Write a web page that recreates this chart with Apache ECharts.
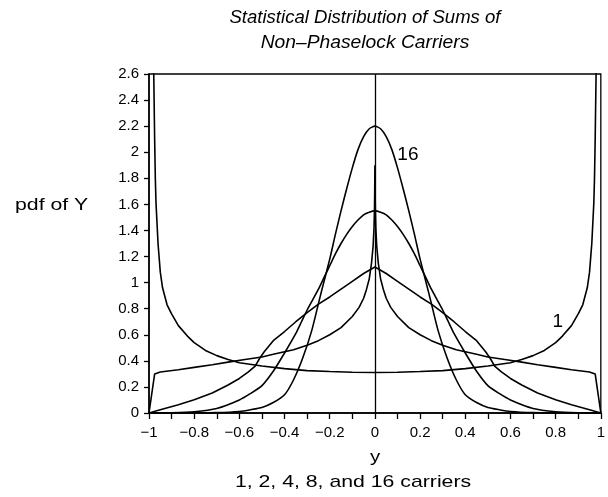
<!DOCTYPE html>
<html><head><meta charset="utf-8">
<script src="https://cdn.jsdelivr.net/npm/echarts@6/dist/echarts.min.js"></script>
<style>html,body{margin:0;padding:0;background:#fff}#c{width:608px;height:497px}</style>
</head><body><div id="c"></div>
<script>
// ---- data ----
const xTickLabels = ['−1','−0.8','−0.6','−0.4','−0.2','0','0.2','0.4','0.6','0.8','1'];
const yTickLabels = ['0','0.2','0.4','0.6','0.8','1','1.2','1.4','1.6','1.8','2','2.2','2.4','2.6'];

const n1X = [-0.985,-0.979,-0.975,-0.972,-0.969,-0.96,-0.95,-0.94,-0.92,-0.9,-0.87,-0.83,-0.8,-0.75,-0.7,-0.65,-0.6,-0.5,-0.4,-0.3,-0.2,-0.1,0,0.1,0.2,0.3,0.4,0.5,0.6,0.65,0.7,0.75,0.8,0.83,0.87,0.9,0.92,0.94,0.95,0.96,0.969,0.972,0.975,0.979,0.985];
const n1Y = [3.2,2.6,2.1,1.8,1.61,1.3,1.08,0.96,0.83,0.76,0.67,0.59,0.54,0.48,0.44,0.41,0.385,0.36,0.34,0.325,0.318,0.313,0.311,0.313,0.318,0.325,0.34,0.36,0.385,0.41,0.44,0.48,0.54,0.59,0.67,0.76,0.83,0.96,1.08,1.3,1.61,1.8,2.1,2.6,3.2];

const n2X = [-1,-0.975,-0.95,-0.87,-0.8,-0.72,-0.65,-0.575,-0.5,-0.45,-0.4,-0.36,-0.3,-0.25,-0.2,-0.15,-0.1,-0.07,-0.05,-0.037,-0.025,-0.015,-0.008,-0.004,-0.002,-0.001,0,0.001,0.002,0.004,0.008,0.015,0.025,0.037,0.05,0.07,0.1,0.15,0.2,0.25,0.3,0.36,0.4,0.45,0.5,0.575,0.65,0.72,0.8,0.87,0.95,0.975,1];
const n2Y = [0,0.3,0.315,0.332,0.35,0.37,0.39,0.41,0.43,0.45,0.47,0.485,0.52,0.555,0.6,0.655,0.74,0.81,0.88,0.95,1.03,1.15,1.28,1.42,1.56,1.68,1.9,1.68,1.56,1.42,1.28,1.15,1.03,0.95,0.88,0.81,0.74,0.655,0.6,0.555,0.52,0.485,0.47,0.45,0.43,0.41,0.39,0.37,0.35,0.332,0.315,0.3,0];

const n4X = [-1,-0.95,-0.87,-0.8,-0.72,-0.65,-0.6,-0.56,-0.53,-0.51,-0.49,-0.45,-0.4,-0.35,-0.3,-0.25,-0.2,-0.15,-0.1,-0.05,0,0.05,0.1,0.15,0.2,0.25,0.3,0.35,0.4,0.45,0.49,0.51,0.53,0.56,0.6,0.65,0.72,0.8,0.87,0.95,1];
const n4Y = [0,0.025,0.064,0.102,0.153,0.215,0.265,0.315,0.36,0.42,0.47,0.555,0.625,0.7,0.77,0.835,0.89,0.95,1.01,1.07,1.12,1.07,1.01,0.95,0.89,0.835,0.77,0.7,0.625,0.555,0.47,0.42,0.36,0.315,0.265,0.215,0.153,0.102,0.064,0.025,0];

const n8X = [-1,-0.9,-0.8,-0.7,-0.6,-0.55,-0.5,-0.45,-0.4,-0.35,-0.325,-0.3,-0.275,-0.25,-0.225,-0.2,-0.175,-0.15,-0.125,-0.1,-0.075,-0.05,-0.025,0,0.025,0.05,0.075,0.1,0.125,0.15,0.175,0.2,0.225,0.25,0.275,0.3,0.325,0.35,0.4,0.45,0.5,0.55,0.6,0.7,0.8,0.9,1];
const n8Y = [0,0.002,0.01,0.035,0.1,0.15,0.21,0.32,0.46,0.61,0.7,0.79,0.87,0.95,1.04,1.13,1.22,1.3,1.37,1.43,1.48,1.52,1.54,1.55,1.54,1.52,1.48,1.43,1.37,1.3,1.22,1.13,1.04,0.95,0.87,0.79,0.7,0.61,0.46,0.32,0.21,0.15,0.1,0.035,0.01,0.002,0];

const n16X = [-1,-0.8,-0.7,-0.6,-0.55,-0.5,-0.45,-0.4,-0.36,-0.32,-0.28,-0.24,-0.2,-0.175,-0.15,-0.125,-0.1,-0.075,-0.05,-0.025,0,0.025,0.05,0.075,0.1,0.125,0.15,0.175,0.2,0.24,0.28,0.32,0.36,0.4,0.45,0.5,0.55,0.6,0.7,0.8,1];
const n16Y = [0,0.001,0.003,0.012,0.025,0.042,0.08,0.14,0.255,0.42,0.63,0.91,1.18,1.37,1.55,1.72,1.88,2.02,2.12,2.18,2.2,2.18,2.12,2.02,1.88,1.72,1.55,1.37,1.18,0.91,0.63,0.42,0.255,0.14,0.08,0.042,0.025,0.012,0.003,0.001,0];

const curveLabels = [{name:'16', x:0.146, y:1.98}, {name:'1', x:0.81, y:0.70}];
// ---------------------------------------

const zip = (xs, ys) => xs.map((x, i) => [x, ys[i]]);
const FONT = 'Liberation Sans, Arial, sans-serif';
const lineStyle = {color:'#000', width:1.6};
function mk(name, xs, ys, smooth, extra) {
  return Object.assign({
    name, type:'line', data: zip(xs, ys), showSymbol:false, symbol:'none',
    smooth: smooth, lineStyle, clip:true, silent:true, animation:false, z:3
  }, extra || {});
}

const chart = echarts.init(document.getElementById('c'), null, {renderer:'canvas'});
chart.setOption({
  animation:false,
  backgroundColor:'#fff',
  grid:{left:149, right:7, top:74, bottom:84, show:true, borderColor:'#000', borderWidth:1.3, backgroundColor:'transparent'},
  xAxis:{
    type:'value', min:-1, max:1, interval:0.2,
    axisLine:{show:true, onZero:false, lineStyle:{color:'#000', width:1.5}},
    axisTick:{show:true, length:6, lineStyle:{color:'#000', width:1.3}},
    minorTick:{show:true, splitNumber:2, length:6, lineStyle:{color:'#000', width:1.3}},
    splitLine:{show:false},
    axisLabel:{color:'#000', fontSize:15, fontFamily:FONT, margin:12,
      formatter:(v)=>{ const i = Math.round((v + 1) / 0.2); return xTickLabels[i] ?? ''; }}
  },
  yAxis:{
    type:'value', min:0, max:2.6, interval:0.2,
    axisLine:{show:true, onZero:false, lineStyle:{color:'#000', width:1.5}},
    axisTick:{show:true, length:5, lineStyle:{color:'#000', width:1.3}},
    splitLine:{show:false},
    axisLabel:{color:'#000', fontSize:15, fontFamily:FONT, margin:10,
      formatter:(v)=>{ const i = Math.round(v / 0.2); return yTickLabels[i] ?? ''; }}
  },
  graphic:[
    {type:'text', x:365, y:18, scaleX:1.03, style:{text:'Statistical Distribution of Sums of', font:'italic 18px '+FONT, fill:'#000', textAlign:'center', textVerticalAlign:'middle'}},
    {type:'text', x:365, y:43, scaleX:1.07, style:{text:'Non–Phaselock Carriers', font:'italic 18px '+FONT, fill:'#000', textAlign:'center', textVerticalAlign:'middle'}},
    {type:'text', x:15, y:205, scaleX:1.25, style:{text:'pdf of Y', font:'17px '+FONT, fill:'#000', textAlign:'left', textVerticalAlign:'middle'}},
    {type:'text', x:375, y:457, scaleX:1.2, style:{text:'y', font:'17px '+FONT, fill:'#000', textAlign:'center', textVerticalAlign:'middle'}},
    {type:'text', x:353, y:482, scaleX:1.25, style:{text:'1, 2, 4, 8, and 16 carriers', font:'17px '+FONT, fill:'#000', textAlign:'center', textVerticalAlign:'middle'}}
  ],
  series:[
    mk('1 carrier', n1X, n1Y, false, {
      markLine:{silent:true, symbol:'none', animation:false, label:{show:false},
        lineStyle:{color:'#000', width:1.3, type:'solid'}, data:[{xAxis:0}]},
      markPoint:{symbol:'rect', symbolSize:1, silent:true, animation:false,
        itemStyle:{color:'rgba(0,0,0,0)'},
        label:{show:true, position:'inside', color:'#000', fontSize:19, fontFamily:FONT, formatter:(p)=>p.name},
        data: curveLabels.map(l => ({name:l.name, coord:[l.x, l.y]}))}
    }),
    mk('2 carriers', n2X, n2Y, false),
    mk('4 carriers', n4X, n4Y, false),
    mk('8 carriers', n8X, n8Y, 0.2),
    mk('16 carriers', n16X, n16Y, 0.2)
  ]
});
</script>
</body></html>
